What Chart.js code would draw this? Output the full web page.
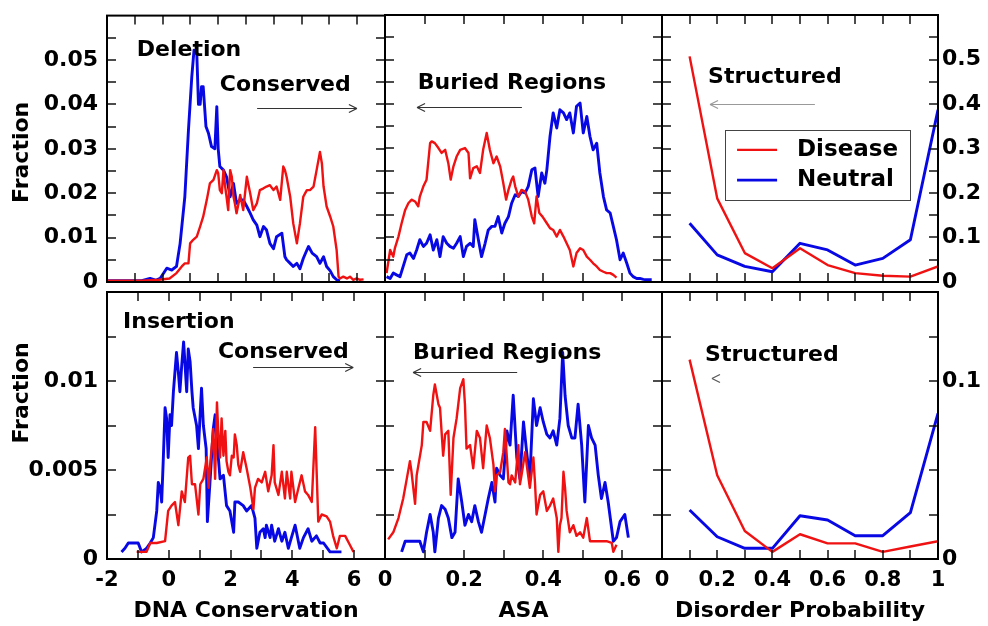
<!DOCTYPE html>
<html><head><meta charset="utf-8">
<script src="https://cdn.jsdelivr.net/npm/chart.js@4.4.1/dist/chart.umd.min.js"></script>
<style>
html,body{margin:0;padding:0;background:#fff;}
#wrap{position:relative;width:988px;height:626px;overflow:hidden;background:#fff;}
canvas{position:absolute;left:0;top:0;}
</style></head><body><div id="wrap">
<canvas id="p1" width="988" height="626"></canvas>
<canvas id="p2" width="988" height="626"></canvas>
<canvas id="p3" width="988" height="626"></canvas>
<canvas id="p4" width="988" height="626"></canvas>
<canvas id="p5" width="988" height="626"></canvas>
<canvas id="p6" width="988" height="626"></canvas>
</div>
<script>
// ---------- DATA ----------
const seriesNames = ['Disease', 'Neutral'];

// Deletion vs DNA conservation
const delConsDisease = [[-2.0,0.0003],[-0.75,0.0003],[-0.13,0.0005],[0.25,0.0008],[0.5,0.002],[0.69,0.0035],[0.8,0.0042],[0.93,0.0042],[0.99,0.0087],[1.1,0.0095],[1.23,0.0102],[1.35,0.0125],[1.46,0.0147],[1.59,0.0185],[1.7,0.0222],[1.83,0.023],[1.95,0.0252],[2.0,0.0245],[2.06,0.0207],[2.13,0.020],[2.19,0.0252],[2.25,0.0215],[2.3,0.0192],[2.36,0.0162],[2.43,0.0252],[2.49,0.0237],[2.55,0.0192],[2.6,0.0177],[2.66,0.0155],[2.73,0.0177],[2.79,0.0196],[2.9,0.0162],[3.03,0.0237],[3.09,0.0218],[3.15,0.020],[3.26,0.0162],[3.39,0.0177],[3.5,0.0207],[3.63,0.0211],[3.74,0.0215],[3.86,0.0218],[3.99,0.0207],[4.1,0.0215],[4.23,0.0185],[4.34,0.026],[4.4,0.0252],[4.46,0.0237],[4.59,0.0192],[4.7,0.0132],[4.83,0.0087],[4.94,0.0132],[5.06,0.0192],[5.13,0.020],[5.19,0.0207],[5.3,0.0207],[5.43,0.0215],[5.54,0.0252],[5.66,0.0293],[5.73,0.0267],[5.79,0.0215],[5.9,0.017],[6.03,0.0147],[6.14,0.0125],[6.26,0.0072],[6.33,0.0012],[6.38,0.0008],[6.5,0.0012],[6.63,0.0008],[6.74,0.0012],[6.86,0.0005],[6.98,0.0008],[7.1,0.0005],[7.23,0.0006]];
const delConsNeutral = [[-2.0,0.0003],[-0.75,0.0003],[-0.45,0.0008],[-0.25,0.0004],[-0.09,0.0008],[0.15,0.0031],[0.33,0.0027],[0.5,0.0035],[0.63,0.0087],[0.8,0.0192],[0.93,0.0342],[1.05,0.0462],[1.13,0.0522],[1.23,0.0515],[1.29,0.040],[1.35,0.040],[1.4,0.044],[1.46,0.044],[1.56,0.035],[1.65,0.0335],[1.76,0.0305],[1.88,0.030],[1.95,0.0395],[2.0,0.030],[2.06,0.026],[2.19,0.0252],[2.3,0.0237],[2.43,0.0192],[2.55,0.0222],[2.66,0.0177],[2.79,0.0185],[2.9,0.0185],[3.03,0.017],[3.15,0.0155],[3.26,0.014],[3.39,0.0128],[3.5,0.0102],[3.63,0.0125],[3.74,0.0117],[3.86,0.0087],[3.99,0.0075],[4.1,0.0102],[4.29,0.011],[4.4,0.0057],[4.46,0.005],[4.59,0.0042],[4.7,0.0035],[4.83,0.0042],[4.94,0.003],[5.06,0.0053],[5.19,0.0072],[5.25,0.008],[5.38,0.0065],[5.54,0.0057],[5.66,0.0042],[5.79,0.0057],[5.9,0.0035],[6.03,0.0025],[6.14,0.0012],[6.26,0.0005],[6.38,0.0003]];

// Deletion vs ASA
const delAsaDisease = [[0.004,0.002],[0.013,0.0072],[0.021,0.0057],[0.025,0.0076],[0.034,0.0102],[0.042,0.0132],[0.051,0.0162],[0.059,0.0177],[0.067,0.0185],[0.076,0.0181],[0.084,0.017],[0.088,0.0192],[0.097,0.0215],[0.105,0.023],[0.114,0.0312],[0.118,0.0316],[0.126,0.0312],[0.135,0.0301],[0.143,0.029],[0.152,0.0297],[0.160,0.0267],[0.166,0.023],[0.173,0.026],[0.181,0.0282],[0.190,0.0297],[0.202,0.0301],[0.211,0.029],[0.215,0.0233],[0.223,0.0256],[0.232,0.026],[0.240,0.0245],[0.248,0.0297],[0.257,0.0335],[0.265,0.0297],[0.274,0.0267],[0.282,0.0282],[0.291,0.026],[0.299,0.0222],[0.306,0.0185],[0.312,0.0207],[0.320,0.023],[0.324,0.0237],[0.329,0.0215],[0.337,0.0192],[0.345,0.0207],[0.354,0.0203],[0.362,0.0185],[0.371,0.0147],[0.377,0.0132],[0.383,0.0192],[0.390,0.0155],[0.398,0.0147],[0.409,0.0132],[0.417,0.0121],[0.425,0.0117],[0.434,0.0102],[0.442,0.0117],[0.451,0.0102],[0.459,0.0087],[0.467,0.0072],[0.476,0.0035],[0.484,0.0065],[0.493,0.0076],[0.501,0.0072],[0.510,0.0057],[0.518,0.005],[0.526,0.0042],[0.535,0.0035],[0.543,0.0027],[0.552,0.0023],[0.560,0.002],[0.569,0.002],[0.577,0.0016],[0.585,0.001]];
const delAsaNeutral = [[0.004,0.0012],[0.013,0.0008],[0.021,0.002],[0.029,0.0016],[0.038,0.0012],[0.046,0.0035],[0.055,0.0061],[0.063,0.0065],[0.072,0.0053],[0.080,0.0072],[0.088,0.0095],[0.097,0.008],[0.105,0.0087],[0.114,0.0106],[0.122,0.0072],[0.131,0.0095],[0.139,0.0057],[0.147,0.0102],[0.156,0.0087],[0.164,0.008],[0.173,0.0076],[0.181,0.0087],[0.190,0.0102],[0.198,0.0057],[0.206,0.008],[0.215,0.0087],[0.223,0.008],[0.227,0.014],[0.236,0.0095],[0.244,0.0057],[0.253,0.0087],[0.261,0.0117],[0.270,0.0125],[0.278,0.0125],[0.286,0.0147],[0.295,0.011],[0.303,0.0132],[0.312,0.0147],[0.320,0.0177],[0.329,0.0196],[0.337,0.0192],[0.345,0.0203],[0.354,0.020],[0.362,0.0215],[0.371,0.0252],[0.379,0.0256],[0.387,0.0192],[0.396,0.0245],[0.404,0.0222],[0.409,0.0252],[0.417,0.0327],[0.425,0.038],[0.434,0.0346],[0.442,0.0387],[0.451,0.038],[0.459,0.0365],[0.467,0.038],[0.476,0.0335],[0.484,0.0395],[0.493,0.0402],[0.501,0.0335],[0.510,0.0372],[0.518,0.0327],[0.526,0.0297],[0.535,0.0312],[0.543,0.0245],[0.552,0.0192],[0.560,0.0162],[0.569,0.0155],[0.577,0.0125],[0.585,0.0095],[0.594,0.005],[0.602,0.0065],[0.611,0.0042],[0.619,0.002],[0.627,0.0012],[0.636,0.0008],[0.644,0.0008],[0.653,0.0006],[0.661,0.0005],[0.674,0.0005]];

// Disorder probability (bins)
const disorderX = [0.1,0.2,0.3,0.4,0.5,0.6,0.7,0.8,0.9,1.0];
const delDisDisease = [0.507,0.188,0.065,0.031,0.076,0.038,0.020,0.014,0.012,0.035];
const delDisNeutral = [0.132,0.061,0.035,0.023,0.087,0.072,0.038,0.053,0.095,0.387];
const insDisDisease = [0.112,0.047,0.0157,0.004,0.0139,0.0088,0.0088,0.004,0.007,0.010];
const insDisNeutral = [0.0275,0.0125,0.006,0.006,0.0243,0.0219,0.0131,0.0131,0.026,0.0818];

// Insertion vs DNA conservation
const insConsDisease = [[-1.04,0.0004],[-0.93,0.0004],[-0.72,0.0004],[-0.6,0.0009],[-0.39,0.0009],[-0.12,0.001],[-0.02,0.0027],[0.09,0.003],[0.2,0.0032],[0.31,0.0019],[0.42,0.0038],[0.52,0.0032],[0.63,0.0057],[0.69,0.0058],[0.75,0.0042],[0.85,0.0042],[0.96,0.0025],[1.02,0.0042],[1.12,0.0045],[1.23,0.0057],[1.29,0.004],[1.33,0.0051],[1.44,0.0073],[1.5,0.0045],[1.56,0.0088],[1.6,0.0072],[1.66,0.0057],[1.71,0.0079],[1.77,0.0058],[1.83,0.0072],[1.87,0.0055],[1.93,0.0049],[1.98,0.0047],[2.04,0.0058],[2.1,0.0057],[2.14,0.007],[2.2,0.0064],[2.25,0.0053],[2.31,0.0049],[2.41,0.006],[2.52,0.0051],[2.64,0.004],[2.74,0.0028],[2.79,0.004],[2.89,0.0045],[3.01,0.0043],[3.12,0.0049],[3.22,0.0038],[3.33,0.0047],[3.39,0.0064],[3.43,0.0043],[3.55,0.0036],[3.66,0.0049],[3.76,0.0034],[3.82,0.0049],[3.93,0.0034],[3.97,0.0049],[4.09,0.0032],[4.2,0.004],[4.3,0.0047],[4.41,0.0038],[4.51,0.0036],[4.63,0.0032],[4.74,0.0074],[4.84,0.0021],[4.95,0.0025],[5.11,0.0024],[5.22,0.0021],[5.32,0.0013],[5.44,0.0006],[5.54,0.0013],[5.71,0.0013],[5.86,0.0008],[5.98,0.0004]];
const insConsNeutral = [[-1.53,0.0004],[-1.42,0.0006],[-1.31,0.0009],[-1.15,0.0009],[-0.99,0.0009],[-0.88,0.0004],[-0.72,0.0006],[-0.6,0.0009],[-0.5,0.0012],[-0.39,0.0027],[-0.34,0.0043],[-0.28,0.004],[-0.23,0.0032],[-0.18,0.0055],[-0.12,0.0085],[-0.07,0.0079],[-0.02,0.0057],[0.04,0.0081],[0.09,0.0075],[0.15,0.0094],[0.25,0.0116],[0.31,0.0105],[0.36,0.0094],[0.42,0.0109],[0.48,0.0122],[0.52,0.0111],[0.58,0.0094],[0.63,0.0118],[0.69,0.0111],[0.75,0.0094],[0.79,0.0085],[0.9,0.0075],[0.96,0.0062],[1.02,0.0083],[1.06,0.0096],[1.12,0.0075],[1.21,0.0062],[1.25,0.0021],[1.33,0.0042],[1.44,0.0073],[1.5,0.0081],[1.56,0.0064],[1.6,0.0058],[1.66,0.0045],[1.77,0.0047],[1.87,0.003],[1.98,0.0027],[2.1,0.0015],[2.14,0.0032],[2.25,0.0032],[2.41,0.003],[2.52,0.0027],[2.68,0.003],[2.79,0.0023],[2.85,0.0006],[2.95,0.0015],[3.06,0.0017],[3.12,0.0012],[3.16,0.0019],[3.28,0.0012],[3.33,0.0019],[3.43,0.001],[3.55,0.0017],[3.66,0.001],[3.76,0.0015],[3.87,0.0006],[3.97,0.0012],[4.09,0.0019],[4.24,0.0006],[4.36,0.0012],[4.51,0.0017],[4.63,0.001],[4.78,0.0013],[4.9,0.0009],[5.01,0.0009],[5.22,0.0004],[5.44,0.0004],[5.59,0.0004]];

// Insertion vs ASA
const insAsaDisease = [[0.008,0.0011],[0.021,0.0015],[0.034,0.0023],[0.046,0.0034],[0.055,0.0045],[0.063,0.0055],[0.067,0.0049],[0.076,0.0031],[0.080,0.0047],[0.093,0.0064],[0.097,0.0077],[0.105,0.0077],[0.114,0.0072],[0.122,0.0092],[0.126,0.0098],[0.135,0.0087],[0.139,0.0085],[0.147,0.0058],[0.152,0.007],[0.160,0.0072],[0.166,0.0036],[0.173,0.0068],[0.181,0.0079],[0.190,0.0096],[0.198,0.0101],[0.202,0.0087],[0.206,0.0062],[0.215,0.0064],[0.223,0.0051],[0.232,0.0072],[0.240,0.0068],[0.248,0.0051],[0.257,0.0075],[0.265,0.0068],[0.274,0.0053],[0.278,0.0038],[0.282,0.0047],[0.291,0.0049],[0.299,0.006],[0.303,0.0073],[0.308,0.0057],[0.312,0.0043],[0.316,0.0042],[0.320,0.0047],[0.329,0.0043],[0.337,0.0064],[0.341,0.0042],[0.345,0.0047],[0.354,0.006],[0.358,0.0053],[0.366,0.004],[0.375,0.0057],[0.379,0.0043],[0.383,0.0025],[0.392,0.0036],[0.400,0.0038],[0.409,0.0027],[0.417,0.003],[0.425,0.0034],[0.434,0.0023],[0.438,0.0004],[0.442,0.0019],[0.446,0.0023],[0.451,0.0049],[0.455,0.004],[0.459,0.0027],[0.467,0.0015],[0.476,0.0019],[0.484,0.0013],[0.493,0.0015],[0.501,0.0012],[0.510,0.0023],[0.518,0.001],[0.526,0.001],[0.543,0.001],[0.560,0.001],[0.573,0.0009],[0.577,0.0004],[0.585,0.0008]];
const insAsaNeutral = [[0.042,0.0004],[0.051,0.001],[0.063,0.001],[0.076,0.001],[0.088,0.001],[0.097,0.0004],[0.105,0.0015],[0.114,0.0025],[0.122,0.0015],[0.126,0.0004],[0.135,0.0023],[0.143,0.003],[0.152,0.0028],[0.160,0.0023],[0.169,0.0012],[0.177,0.0015],[0.185,0.0045],[0.194,0.0032],[0.202,0.0019],[0.211,0.0025],[0.219,0.0021],[0.227,0.003],[0.236,0.0021],[0.244,0.0015],[0.253,0.0025],[0.261,0.0034],[0.270,0.0043],[0.278,0.0032],[0.282,0.0051],[0.291,0.0047],[0.299,0.0045],[0.308,0.0072],[0.316,0.0064],[0.324,0.0092],[0.333,0.0057],[0.341,0.0045],[0.350,0.0077],[0.358,0.006],[0.366,0.0045],[0.375,0.009],[0.383,0.0075],[0.392,0.0085],[0.400,0.0077],[0.409,0.007],[0.417,0.0068],[0.425,0.0072],[0.434,0.0064],[0.442,0.0079],[0.449,0.0116],[0.455,0.0092],[0.463,0.0075],[0.472,0.0068],[0.480,0.0068],[0.488,0.0087],[0.497,0.0064],[0.505,0.0032],[0.514,0.0075],[0.522,0.0068],[0.531,0.0064],[0.539,0.0047],[0.547,0.0034],[0.556,0.0043],[0.564,0.0032],[0.577,0.001],[0.585,0.0012],[0.594,0.0021],[0.606,0.0025],[0.615,0.0012]];

// Tick labels
const consTicks = [-2,0,2,4,6];
const asaTicks = [0,0.2,0.4,0.6];
const disorderTicks = [0,0.2,0.4,0.6,0.8,1];
const delFracTicks = [0,0.01,0.02,0.03,0.04,0.05];
const insFracTicks = [0,0.005,0.01];
const delDisFracTicks = [0,0.1,0.2,0.3,0.4,0.5];
const insDisFracTicks = [0,0.1];

// ---------- STYLE / LAYOUT ----------
const RED = 'rgb(240,18,18)', BLUE = 'rgb(8,8,228)';
const W = 988, H = 626;
const COLS = [[107,385],[385,662],[662,938]];
const ROWS = [[15,282],[292,559]];
const FAM = '"DejaVu Sans", sans-serif';
const XTICKFONT = {family: FAM, size: 21, weight: 'bold'};
const YTICKFONT = {family: FAM, size: 22, weight: 'bold', lineHeight: 0.6};
const TITLEFONT = {family: FAM, size: 22, weight: 'bold'};
const ANNOFONT = 'bold 22px ' + FAM;
const LEGFONT = 'bold 23px ' + FAM;
const fmt = v => String(Number(Number(v).toPrecision(6)));

const decor = {
  id: 'decor',
  afterDatasetsDraw(chart, args, o) {
    const {ctx, chartArea: a, scales: {x, y}} = chart;
    ctx.save();
    const line = (x1,y1,x2,y2) => { ctx.beginPath(); ctx.moveTo(x1,y1); ctx.lineTo(x2,y2); ctx.stroke(); };
    ctx.strokeStyle = '#111'; ctx.lineWidth = 1.5;
    const L = 9;
    for (let k = 1; k < o.xDiv; k++) {
      const v = x.min + (x.max - x.min) * k / o.xDiv;
      const p = Math.round(x.getPixelForValue(v));
      line(p, a.bottom, p, a.bottom - L);
      line(p, a.top, p, a.top + L);
    }
    for (let v = o.yStep; v < y.max - 1e-9; v += o.yStep) {
      const p = Math.round(y.getPixelForValue(v));
      line(a.left, p, a.left + L, p);
      line(a.right, p, a.right - L, p);
    }
    ctx.lineWidth = 2; ctx.strokeStyle = '#000';
    ctx.strokeRect(a.left, a.top, a.right - a.left, a.bottom - a.top);
    ctx.fillStyle = '#000'; ctx.font = ANNOFONT; ctx.textBaseline = 'middle'; ctx.textAlign = 'left';
    (o.texts || []).forEach(t => ctx.fillText(t.text, x.getPixelForValue(t.x), y.getPixelForValue(t.y)));
    (o.arrows || []).forEach(ar => {
      ctx.strokeStyle = ar.color || '#333'; ctx.lineWidth = 1.2;
      const x1 = x.getPixelForValue(ar.x1), x2 = x.getPixelForValue(ar.x2), py = Math.round(y.getPixelForValue(ar.y)) + 0.5;
      if (!ar.headOnly) line(x1, py, x2, py);
      const d = x2 > x1 ? -1 : 1;
      line(x2, py, x2 + d * 8, py - 4);
      line(x2, py, x2 + d * 8, py + 4);
    });
    if (o.legend) {
      const lg = o.legend;
      const bx1 = x.getPixelForValue(lg.x1), bx2 = x.getPixelForValue(lg.x2);
      const by1 = y.getPixelForValue(lg.y1), by2 = y.getPixelForValue(lg.y2);
      ctx.fillStyle = '#fff'; ctx.fillRect(bx1, by1, bx2 - bx1, by2 - by1);
      ctx.strokeStyle = '#444'; ctx.lineWidth = 1;
      ctx.strokeRect(Math.round(bx1) + 0.5, Math.round(by1) + 0.5, Math.round(bx2 - bx1), Math.round(by2 - by1));
      chart.data.datasets.forEach((ds, i) => {
        const py = y.getPixelForValue(lg.rows[i]);
        ctx.strokeStyle = ds.borderColor; ctx.lineWidth = ds.borderWidth;
        line(x.getPixelForValue(lg.lx1), py, x.getPixelForValue(lg.lx2), py);
        ctx.fillStyle = '#000'; ctx.font = LEGFONT;
        ctx.fillText(ds.label, x.getPixelForValue(lg.tx), py);
      });
    }
    if (o.yTitle) {
      ctx.fillStyle = '#000';
      ctx.font = 'bold 22px ' + FAM;
      ctx.translate(a.left + o.yTitle.dx, y.getPixelForValue(o.yTitle.value));
      ctx.rotate(-Math.PI / 2);
      ctx.textAlign = 'center'; ctx.textBaseline = 'middle';
      ctx.fillText(o.yTitle.text, 0, 0);
    }
    ctx.restore();
  }
};

function makePanel(id, col, row, p) {
  const [x0, x1] = COLS[col], [y0, y1] = ROWS[row];
  const showX = row === 1;
  const yPos = col === 0 ? 'left' : (col === 2 ? 'right' : null);
  const toPts = s => s.map(([x, y]) => ({x, y}));
  new Chart(document.getElementById(id), {
    type: 'line',
    data: {
      datasets: [
        {label: seriesNames[0], data: toPts(p.disease), borderColor: RED, borderWidth: 2.4},
        {label: seriesNames[1], data: toPts(p.neutral), borderColor: BLUE, borderWidth: 2.9}
      ].map(d => Object.assign(d, {pointRadius: 0, fill: false, tension: 0, borderJoinStyle: 'round'}))
    },
    options: {
      responsive: false, animation: false, events: [],
      layout: {padding: {
        left: yPos === 'left' ? 0 : x0,
        right: yPos === 'right' ? 0 : W - x1,
        top: y0,
        bottom: showX ? 0 : H - y1
      }},
      scales: {
        x: {
          type: 'linear', min: p.xMin, max: p.xMax, display: showX,
          afterFit: s => { s.height = showX ? H - y1 : 0; },
          afterBuildTicks: s => { s.ticks = p.xTicks.map(v => ({value: v})); },
          grid: {display: false, drawTicks: false}, border: {display: false},
          ticks: {autoSkip: false, maxRotation: 0, padding: 9, color: '#000', font: XTICKFONT, callback: fmt},
          title: {display: true, text: p.xTitle, color: '#000', font: TITLEFONT, padding: {top: 0, bottom: 2}}
        },
        y: {
          type: 'linear', min: 0, max: p.yMax, position: yPos || 'left', display: !!yPos,
          afterFit: s => { s.width = yPos === 'left' ? x0 : (yPos === 'right' ? W - x1 : 0); },
          afterBuildTicks: s => { s.ticks = p.yTicks.map(v => ({value: v})); },
          grid: {display: false, drawTicks: false}, border: {display: false},
          ticks: {autoSkip: false, padding: yPos === 'right' ? 4 : 9, color: '#000', font: YTICKFONT, callback: fmt}
        }
      },
      plugins: {
        legend: {display: false}, tooltip: {enabled: false},
        decor: p.decor
      }
    },
    plugins: [decor]
  });
}

const disPts = vals => disorderX.map((x, i) => [x, vals[i]]);

makePanel('p1', 0, 0, {
  disease: delConsDisease, neutral: delConsNeutral,
  xMin: -2, xMax: 8, xTicks: consTicks, xTitle: 'DNA Conservation',
  yMax: 0.06, yTicks: delFracTicks,
  decor: {xDiv: 10, yStep: 0.005,
    texts: [{text: 'Deletion', x: -0.93, y: 0.0521}, {text: 'Conserved', x: 2.06, y: 0.0443}],
    arrows: [{x1: 3.4, x2: 6.99, y: 0.0393}],
    yTitle: {text: 'Fraction', value: 0.0292, dx: -85}}
});
makePanel('p2', 1, 0, {
  disease: delAsaDisease, neutral: delAsaNeutral,
  xMin: 0, xMax: 0.7, xTicks: asaTicks, xTitle: 'ASA',
  yMax: 0.06, yTicks: delFracTicks,
  decor: {xDiv: 7, yStep: 0.005,
    texts: [{text: 'Buried Regions', x: 0.083, y: 0.0447}],
    arrows: [{x1: 0.346, x2: 0.081, y: 0.0393}]}
});
makePanel('p3', 2, 0, {
  disease: disPts(delDisDisease), neutral: disPts(delDisNeutral),
  xMin: 0, xMax: 1, xTicks: disorderTicks, xTitle: 'Disorder Probability',
  yMax: 0.6, yTicks: delDisFracTicks,
  decor: {xDiv: 10, yStep: 0.05,
    texts: [{text: 'Structured', x: 0.167, y: 0.461}],
    arrows: [{x1: 0.554, x2: 0.174, y: 0.40, color: '#999'}],
    legend: {x1: 0.228, x2: 0.899, y1: 0.342, y2: 0.184, rows: [0.297, 0.229], lx1: 0.272, lx2: 0.417, tx: 0.489}}
});
makePanel('p4', 0, 1, {
  disease: insConsDisease, neutral: insConsNeutral,
  xMin: -2, xMax: 7, xTicks: consTicks, xTitle: 'DNA Conservation',
  yMax: 0.015, yTicks: insFracTicks,
  decor: {xDiv: 9, yStep: 0.0025,
    texts: [{text: 'Insertion', x: -1.48, y: 0.01331}, {text: 'Conserved', x: 1.59, y: 0.01163}],
    arrows: [{x1: 2.73, x2: 5.97, y: 0.01079}],
    yTitle: {text: 'Fraction', value: 0.00933, dx: -85}}
});
makePanel('p5', 1, 1, {
  disease: insAsaDisease, neutral: insAsaNeutral,
  xMin: 0, xMax: 0.7, xTicks: asaTicks, xTitle: 'ASA',
  yMax: 0.015, yTicks: insFracTicks,
  decor: {xDiv: 7, yStep: 0.0025,
    texts: [{text: 'Buried Regions', x: 0.071, y: 0.01157}],
    arrows: [{x1: 0.334, x2: 0.071, y: 0.0105}]}
});
makePanel('p6', 2, 1, {
  disease: disPts(insDisDisease), neutral: disPts(insDisNeutral),
  xMin: 0, xMax: 1, xTicks: disorderTicks, xTitle: 'Disorder Probability',
  yMax: 0.15, yTicks: insDisFracTicks,
  decor: {xDiv: 10, yStep: 0.025,
    texts: [{text: 'Structured', x: 0.156, y: 0.1146}],
    arrows: [{x1: 0.2, x2: 0.181, y: 0.1017, headOnly: true, color: '#555'}]}
});
</script>
</body></html>
